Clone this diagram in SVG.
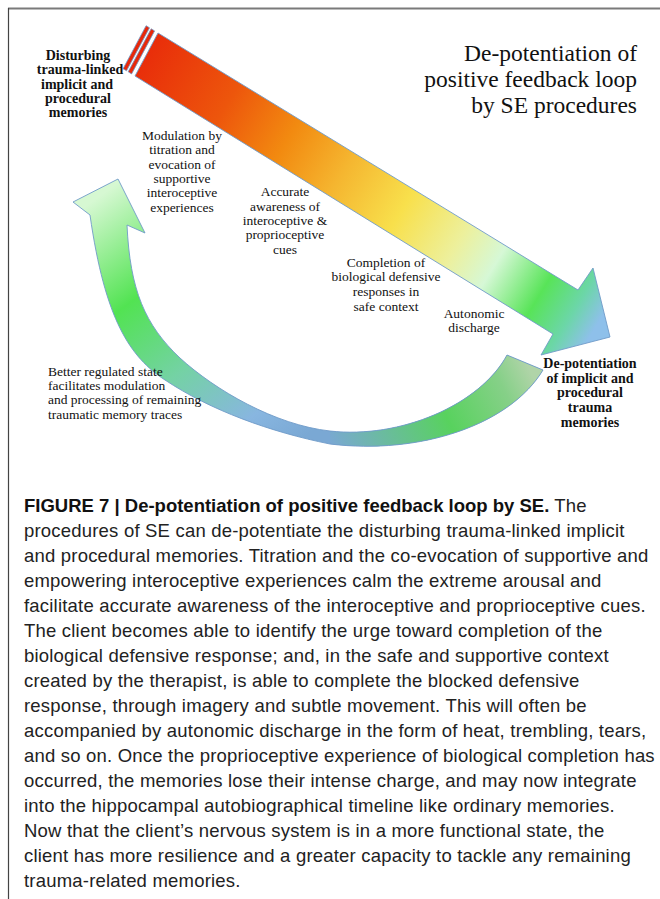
<svg xmlns="http://www.w3.org/2000/svg" width="660" height="899" viewBox="0 0 660 899">
<style>
.lbl{font-family:"Liberation Serif","DejaVu Serif",serif;font-size:13.5px;fill:#111;}
.bold{font-weight:bold;font-size:14px;}
.title{font-family:"Liberation Serif","DejaVu Serif",serif;font-size:23.5px;fill:#111;}
.cap{font-family:"Liberation Sans","Arial",sans-serif;font-size:18.5px;letter-spacing:0.2px;fill:#222;}
.capb{font-weight:bold;letter-spacing:0;fill:#111;}
.outline{fill:none;stroke:#6f9bc8;stroke-width:0.9;stroke-linejoin:miter;}
</style>
<defs>
<linearGradient id="gMain" gradientUnits="userSpaceOnUse" x1="140" y1="40" x2="600" y2="320">
<stop offset="0" stop-color="#e8280a"/>
<stop offset="0.2" stop-color="#ed560c"/>
<stop offset="0.33" stop-color="#f28a10"/>
<stop offset="0.45" stop-color="#f5b630"/>
<stop offset="0.58" stop-color="#f8e04c"/>
<stop offset="0.7" stop-color="#edf09c"/>
<stop offset="0.78" stop-color="#d6f8d6"/>
<stop offset="0.88" stop-color="#58e458"/>
<stop offset="0.95" stop-color="#6cd6a8"/>
<stop offset="1" stop-color="#8ec0ea"/>
</linearGradient>
<linearGradient id="gLeft" gradientUnits="userSpaceOnUse" x1="115" y1="185" x2="300" y2="440">
<stop offset="0" stop-color="#d6f8d2"/>
<stop offset="0.33" stop-color="#52e352"/>
<stop offset="0.6" stop-color="#74d2a4"/>
<stop offset="0.85" stop-color="#88b6e0"/>
<stop offset="1" stop-color="#7aa8d4"/>
</linearGradient>
<linearGradient id="gRight" gradientUnits="userSpaceOnUse" x1="330" y1="445" x2="520" y2="350">
<stop offset="0" stop-color="#7aa8d4"/>
<stop offset="0.55" stop-color="#58d25e"/>
<stop offset="0.85" stop-color="#86d088"/>
<stop offset="1" stop-color="#b0d4a8"/>
</linearGradient>
<clipPath id="cRight"><rect x="330" y="300" width="330" height="200"/></clipPath>
<path id="retShape" d="M507,355 L543,370 C510,425 420,455 330,444 C270,432 210,410 165,380 C130,357 105,320 90,215 L73,202 L118,179 L145,233 L127,225 C130,290 145,325 180,358 C215,390 275,425 330,431 C400,439 480,405 507,355 Z"/>
</defs>
<rect width="660" height="899" fill="#fff"/>
<g id="frame">
<line x1="8" y1="8.5" x2="660" y2="8.5" stroke="#7a7a7a" stroke-width="2"/>
<line x1="8.5" y1="8" x2="8.5" y2="899" stroke="#444" stroke-width="1.2"/>
</g>
<g id="connectors">
<g id="main-arrow">
<polygon points="146.1,25.7 149.5,27.8 126.5,70.8 123.1,68.7" fill="#e8280a" stroke="#6f9bc8" stroke-width="0.8"/>
<polygon points="151.2,28.8 154.6,30.9 131.6,73.9 128.2,71.8" fill="#e8280a" stroke="#6f9bc8" stroke-width="0.8"/>
<polygon points="158,33 578,290 593,268 610,337 541,355 553,334 135,76" fill="url(#gMain)" stroke="#6f9bc8" stroke-width="0.9"/>
</g>
<g id="return-arrow">
<use href="#retShape" fill="url(#gLeft)"/>
<use href="#retShape" fill="url(#gRight)" clip-path="url(#cRight)"/>
<use href="#retShape" class="outline"/>
</g>
</g>
<g id="title">
<text class="title" text-anchor="end" x="637" y="61">De-potentiation of</text>
<text class="title" text-anchor="end" x="637" y="87">positive feedback loop</text>
<text class="title" text-anchor="end" x="637" y="113">by SE procedures</text>
</g>
<g id="node-disturbing">
<text class="lbl bold" text-anchor="middle" x="78" y="60">Disturbing</text>
<text class="lbl bold" text-anchor="middle" x="80" y="74">trauma-linked</text>
<text class="lbl bold" text-anchor="middle" x="77" y="88.5">implicit and</text>
<text class="lbl bold" text-anchor="middle" x="78" y="103">procedural</text>
<text class="lbl bold" text-anchor="middle" x="78" y="117">memories</text>
</g>
<g id="node-modulation">
<text class="lbl" text-anchor="middle" x="182" y="140">Modulation by</text>
<text class="lbl" text-anchor="middle" x="182" y="154">titration and</text>
<text class="lbl" text-anchor="middle" x="182" y="168.5">evocation of</text>
<text class="lbl" text-anchor="middle" x="182" y="183">supportive</text>
<text class="lbl" text-anchor="middle" x="182" y="197">interoceptive</text>
<text class="lbl" text-anchor="middle" x="182" y="211.5">experiences</text>
</g>
<g id="node-awareness">
<text class="lbl" text-anchor="middle" x="285" y="196">Accurate</text>
<text class="lbl" text-anchor="middle" x="285" y="210.5">awareness of</text>
<text class="lbl" text-anchor="middle" x="285" y="225">interoceptive &amp;</text>
<text class="lbl" text-anchor="middle" x="285" y="239">proprioceptive</text>
<text class="lbl" text-anchor="middle" x="285" y="253.5">cues</text>
</g>
<g id="node-completion">
<text class="lbl" text-anchor="middle" x="386" y="266.5">Completion of</text>
<text class="lbl" text-anchor="middle" x="386" y="281">biological defensive</text>
<text class="lbl" text-anchor="middle" x="386" y="296">responses in</text>
<text class="lbl" text-anchor="middle" x="386" y="310.5">safe context</text>
</g>
<g id="node-autonomic">
<text class="lbl" text-anchor="middle" x="474" y="317.5">Autonomic</text>
<text class="lbl" text-anchor="middle" x="474" y="332">discharge</text>
</g>
<g id="node-depotentiation">
<text class="lbl bold" text-anchor="middle" x="590" y="368">De-potentiation</text>
<text class="lbl bold" text-anchor="middle" x="590" y="383">of implicit and</text>
<text class="lbl bold" text-anchor="middle" x="590" y="397">procedural</text>
<text class="lbl bold" text-anchor="middle" x="590" y="412">trauma</text>
<text class="lbl bold" text-anchor="middle" x="590" y="426.5">memories</text>
</g>
<g id="node-better">
<text class="lbl" x="48" y="375.5">Better regulated state</text>
<text class="lbl" x="48" y="389.5">facilitates modulation</text>
<text class="lbl" x="48" y="404">and processing of remaining</text>
<text class="lbl" x="48" y="418.5">traumatic memory traces</text>
</g>
<g id="caption">
<text class="cap" x="24" y="512"><tspan class="capb">FIGURE 7 | De-potentiation of positive feedback loop by SE.</tspan> The</text>
<text class="cap" x="24" y="537">procedures of SE can de-potentiate the disturbing trauma-linked implicit</text>
<text class="cap" x="24" y="562">and procedural memories. Titration and the co-evocation of supportive and</text>
<text class="cap" x="24" y="587">empowering interoceptive experiences calm the extreme arousal and</text>
<text class="cap" x="24" y="612">facilitate accurate awareness of the interoceptive and proprioceptive cues.</text>
<text class="cap" x="24" y="637">The client becomes able to identify the urge toward completion of the</text>
<text class="cap" x="24" y="662">biological defensive response; and, in the safe and supportive context</text>
<text class="cap" x="24" y="687">created by the therapist, is able to complete the blocked defensive</text>
<text class="cap" x="24" y="712">response, through imagery and subtle movement. This will often be</text>
<text class="cap" x="24" y="737">accompanied by autonomic discharge in the form of heat, trembling, tears,</text>
<text class="cap" x="24" y="762">and so on. Once the proprioceptive experience of biological completion has</text>
<text class="cap" x="24" y="787">occurred, the memories lose their intense charge, and may now integrate</text>
<text class="cap" x="24" y="812">into the hippocampal autobiographical timeline like ordinary memories.</text>
<text class="cap" x="24" y="837">Now that the client’s nervous system is in a more functional state, the</text>
<text class="cap" x="24" y="862">client has more resilience and a greater capacity to tackle any remaining</text>
<text class="cap" x="24" y="887">trauma-related memories.</text>
</g>
</svg>
